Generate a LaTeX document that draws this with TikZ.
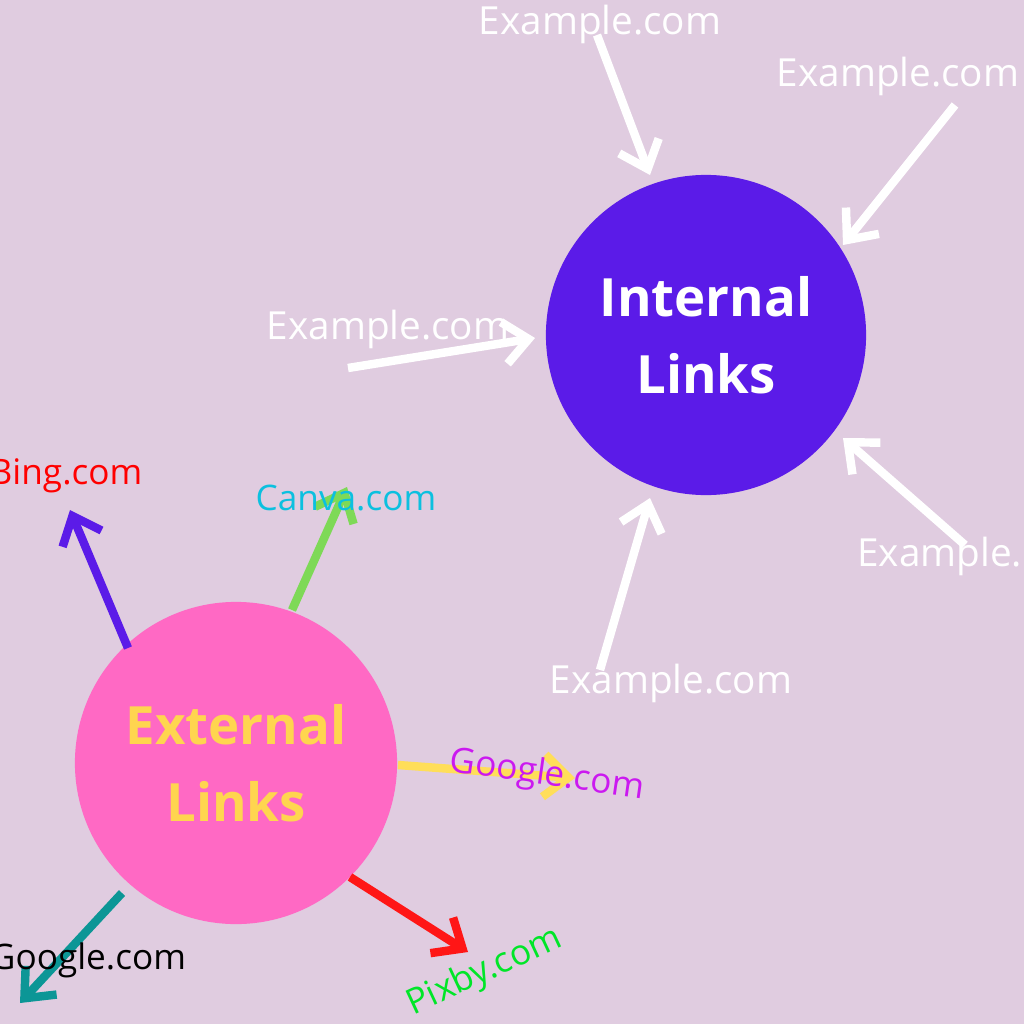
\documentclass[tikz,border=0pt]{standalone}
\usepackage{fontspec}
\setmainfont{Open Sans}
\usetikzlibrary{arrows.meta}
\definecolor{bg}{HTML}{E0CCE0}
\definecolor{intc}{HTML}{5B1BE8}
\definecolor{extc}{HTML}{FF69C4}
\definecolor{ttl}{HTML}{FFD54F}
\begin{document}
\begin{tikzpicture}[x=0.01cm,y=-0.01cm,
  arr/.style={line width=2.4pt,-{Straight Barb[length=7pt,width=12pt,line width=2.4pt]}},
  wl/.style={text=white,font=\fontsize{11}{13}\selectfont},
  el/.style={font=\fontsize{10}{12}\selectfont},
  circ/.style={circle,inner sep=0pt},
  ttlf/.style={font=\fontsize{15}{22}\selectfont\bfseries,align=center}]
\fill[bg] (0,0) rectangle (1024,1024);
\useasboundingbox (0,0) rectangle (1024,1024);
\node[circ,fill=intc,minimum size=3.2cm,text=white,ttlf] (int) at (706,335) {Internal\\Links};
\node[circ,fill=extc,minimum size=3.22cm,text=ttl,ttlf] (ext) at (236,763) {External\\Links};
% internal
\coordinate (a1) at (597,35); \coordinate (b1) at (650,175);
\coordinate (a2) at (955,105); \coordinate (b2) at (843,245);
\coordinate (a3) at (348,368); \coordinate (b3) at (535,338);
\coordinate (a4) at (965,545); \coordinate (b4) at (843,438);
\coordinate (a5) at (600,670); \coordinate (b5) at (650,498);
\foreach \i in {1,...,5}{\draw[arr,white] (a\i) -- (b\i);}
\node[wl] (t1) at (600,24) {Example.com};
\node[wl] (t2) at (898,76) {Example.com};
\node[wl] (t3) at (388,329) {Example.com};
\node[wl,anchor=west] (t4) at (845,556) {Example.com};
\node[wl] (t5) at (671,683) {Example.com};
% external
\coordinate (e1) at (128,648); \coordinate (f1) at (70,510);
\coordinate (e2) at (292,610); \coordinate (f2) at (347,487);
\coordinate (e3) at (398,765); \coordinate (f3) at (575,778);
\coordinate (e4) at (350,877); \coordinate (f4) at (468,952);
\coordinate (e5) at (122,893); \coordinate (f5) at (20,1003);
\draw[arr,color=intc] (e1) -- (f1);
\draw[arr,color={rgb,255:red,126;green,217;blue,87}] (e2) -- (f2);
\draw[arr,color={rgb,255:red,255;green,222;blue,89}] (e3) -- (f3);
\draw[arr,color={rgb,255:red,255;green,22;blue,22}] (e4) -- (f4);
\draw[arr,color={rgb,255:red,12;green,150;blue,150}] (e5) -- (f5);
\node[el,text=red] (l1) at (66,476) {Bing.com};
\node[el,text={rgb,255:red,12;green,192;blue,223}] (l2) at (346,498) {Canva.com};
\node[el,text={rgb,255:red,203;green,25;blue,240},rotate=-8] (l3) at (547,776) {Google.com};
\node[el,text={rgb,255:red,0;green,230;blue,40},rotate=25] (l4) at (485,972) {Pixby.com};
\node[el,text=black] (l5) at (88,960) {Google.com};
\end{tikzpicture}
\end{document}
